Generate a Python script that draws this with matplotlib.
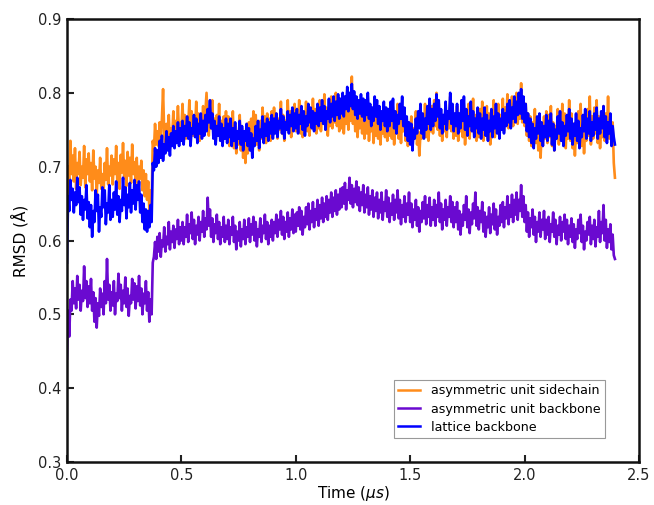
import numpy as np
import matplotlib
matplotlib.use("Agg")
import matplotlib.pyplot as plt
from matplotlib.ticker import FormatStrFormatter

# Sampling interval of the RMSD traces (microseconds)
dt = 0.005

sidechain = [
    0.620, 0.700, 0.675, 0.735, 0.690, 0.715, 0.680, 0.725, 0.670, 0.705, 0.690, 0.720, 0.675, 0.700, 0.685, 0.728, 0.672, 0.710, 0.690, 0.718,
    0.680, 0.705, 0.668, 0.722, 0.684, 0.700, 0.662, 0.695, 0.678, 0.712, 0.670, 0.690, 0.665, 0.705, 0.682, 0.725, 0.676, 0.700, 0.688, 0.715,
    0.676, 0.710, 0.690, 0.728, 0.680, 0.705, 0.670, 0.716, 0.692, 0.732, 0.684, 0.708, 0.674, 0.720, 0.688, 0.712, 0.678, 0.730, 0.690, 0.706,
    0.680, 0.712, 0.672, 0.700, 0.684, 0.708, 0.668, 0.695, 0.660, 0.690, 0.655, 0.680, 0.642, 0.668, 0.650, 0.735, 0.722, 0.758, 0.730, 0.748,
    0.728, 0.760, 0.735, 0.765, 0.805, 0.745, 0.728, 0.758, 0.740, 0.770, 0.732, 0.752, 0.744, 0.775, 0.738, 0.762, 0.748, 0.782, 0.742, 0.760,
    0.750, 0.785, 0.745, 0.770, 0.738, 0.762, 0.755, 0.790, 0.748, 0.775, 0.742, 0.768, 0.752, 0.788, 0.746, 0.772, 0.735, 0.760, 0.750, 0.782,
    0.748, 0.775, 0.800, 0.760, 0.742, 0.778, 0.752, 0.790, 0.745, 0.765, 0.735, 0.770, 0.748, 0.785, 0.740, 0.762, 0.732, 0.768, 0.745, 0.775,
    0.738, 0.768, 0.728, 0.760, 0.742, 0.775, 0.725, 0.755, 0.718, 0.748, 0.730, 0.770, 0.722, 0.752, 0.712, 0.745, 0.705, 0.738, 0.718, 0.760,
    0.728, 0.765, 0.735, 0.775, 0.742, 0.770, 0.730, 0.758, 0.722, 0.762, 0.738, 0.780, 0.745, 0.768, 0.732, 0.772, 0.740, 0.765, 0.735, 0.775,
    0.742, 0.780, 0.748, 0.772, 0.738, 0.765, 0.750, 0.788, 0.745, 0.770, 0.735, 0.762, 0.752, 0.790, 0.748, 0.775, 0.740, 0.768, 0.755, 0.785,
    0.748, 0.778, 0.755, 0.790, 0.745, 0.772, 0.740, 0.765, 0.752, 0.788, 0.748, 0.775, 0.742, 0.770, 0.755, 0.792, 0.750, 0.778, 0.745, 0.772,
    0.752, 0.790, 0.748, 0.775, 0.758, 0.798, 0.750, 0.780, 0.742, 0.770, 0.755, 0.795, 0.752, 0.785, 0.760, 0.800, 0.755, 0.782, 0.748, 0.778,
    0.752, 0.785, 0.745, 0.775, 0.758, 0.790, 0.750, 0.778, 0.762, 0.822, 0.758, 0.785, 0.748, 0.775, 0.740, 0.770, 0.752, 0.788, 0.745, 0.772,
    0.738, 0.768, 0.745, 0.780, 0.735, 0.762, 0.748, 0.775, 0.732, 0.765, 0.742, 0.782, 0.738, 0.768, 0.730, 0.758, 0.745, 0.778, 0.740, 0.765,
    0.735, 0.772, 0.742, 0.780, 0.738, 0.765, 0.730, 0.758, 0.745, 0.785, 0.738, 0.770, 0.732, 0.768, 0.748, 0.778, 0.735, 0.760, 0.728, 0.755,
    0.738, 0.768, 0.725, 0.752, 0.742, 0.775, 0.730, 0.748, 0.715, 0.745, 0.738, 0.770, 0.745, 0.785, 0.740, 0.772, 0.735, 0.768, 0.748, 0.782,
    0.745, 0.790, 0.755, 0.800, 0.750, 0.785, 0.742, 0.772, 0.735, 0.765, 0.748, 0.780, 0.740, 0.775, 0.752, 0.795, 0.748, 0.778, 0.738, 0.770,
    0.742, 0.782, 0.735, 0.768, 0.748, 0.790, 0.740, 0.772, 0.730, 0.760, 0.745, 0.785, 0.738, 0.775, 0.750, 0.792, 0.742, 0.770, 0.735, 0.765,
    0.740, 0.778, 0.748, 0.788, 0.735, 0.768, 0.742, 0.782, 0.738, 0.772, 0.730, 0.765, 0.745, 0.790, 0.740, 0.775, 0.748, 0.785, 0.742, 0.770,
    0.752, 0.792, 0.748, 0.780, 0.758, 0.798, 0.752, 0.785, 0.760, 0.795, 0.755, 0.782, 0.762, 0.800, 0.758, 0.790, 0.765, 0.813, 0.760, 0.792,
    0.755, 0.785, 0.742, 0.772, 0.735, 0.768, 0.728, 0.760, 0.740, 0.778, 0.732, 0.765, 0.722, 0.755, 0.712, 0.750, 0.728, 0.768, 0.738, 0.775,
    0.732, 0.770, 0.740, 0.782, 0.728, 0.760, 0.722, 0.755, 0.738, 0.778, 0.730, 0.768, 0.742, 0.785, 0.735, 0.772, 0.725, 0.762, 0.738, 0.790,
    0.735, 0.772, 0.725, 0.758, 0.715, 0.750, 0.732, 0.775, 0.740, 0.785, 0.728, 0.762, 0.718, 0.752, 0.735, 0.778, 0.742, 0.795, 0.730, 0.768,
    0.738, 0.780, 0.745, 0.790, 0.732, 0.768, 0.725, 0.758, 0.740, 0.782, 0.735, 0.772, 0.745, 0.795, 0.738, 0.765, 0.730, 0.760, 0.705, 0.685,
]

backbone = [
    0.440, 0.505, 0.470, 0.520, 0.505, 0.545, 0.515, 0.535, 0.508, 0.552, 0.520, 0.540, 0.505, 0.532, 0.518, 0.565, 0.522, 0.545, 0.510, 0.538,
    0.515, 0.548, 0.505, 0.530, 0.490, 0.522, 0.482, 0.515, 0.498, 0.535, 0.510, 0.528, 0.500, 0.545, 0.515, 0.575, 0.520, 0.540, 0.505, 0.530,
    0.512, 0.545, 0.500, 0.528, 0.518, 0.555, 0.522, 0.540, 0.505, 0.532, 0.515, 0.550, 0.510, 0.535, 0.498, 0.525, 0.515, 0.548, 0.520, 0.542,
    0.508, 0.538, 0.518, 0.552, 0.512, 0.535, 0.500, 0.528, 0.515, 0.545, 0.505, 0.530, 0.490, 0.520, 0.500, 0.570, 0.578, 0.598, 0.575, 0.605,
    0.585, 0.610, 0.578, 0.600, 0.592, 0.618, 0.585, 0.605, 0.595, 0.625, 0.588, 0.612, 0.598, 0.620, 0.590, 0.615, 0.602, 0.628, 0.595, 0.618,
    0.600, 0.625, 0.595, 0.618, 0.605, 0.635, 0.598, 0.622, 0.610, 0.638, 0.602, 0.628, 0.595, 0.620, 0.608, 0.632, 0.600, 0.625, 0.612, 0.640,
    0.605, 0.630, 0.615, 0.658, 0.620, 0.642, 0.605, 0.630, 0.598, 0.622, 0.610, 0.635, 0.602, 0.625, 0.595, 0.618, 0.605, 0.632, 0.598, 0.620,
    0.602, 0.628, 0.595, 0.618, 0.608, 0.632, 0.598, 0.620, 0.588, 0.612, 0.600, 0.625, 0.592, 0.615, 0.602, 0.628, 0.595, 0.618, 0.605, 0.630,
    0.598, 0.622, 0.608, 0.632, 0.600, 0.625, 0.592, 0.615, 0.605, 0.630, 0.598, 0.620, 0.610, 0.635, 0.602, 0.625, 0.595, 0.620, 0.605, 0.628,
    0.600, 0.625, 0.610, 0.635, 0.605, 0.628, 0.615, 0.640, 0.608, 0.632, 0.602, 0.625, 0.612, 0.638, 0.605, 0.630, 0.615, 0.642, 0.610, 0.635,
    0.612, 0.638, 0.620, 0.645, 0.615, 0.640, 0.608, 0.632, 0.618, 0.645, 0.622, 0.650, 0.615, 0.640, 0.625, 0.652, 0.618, 0.642, 0.628, 0.655,
    0.620, 0.648, 0.630, 0.658, 0.625, 0.650, 0.632, 0.660, 0.628, 0.655, 0.638, 0.665, 0.632, 0.658, 0.640, 0.668, 0.635, 0.662, 0.642, 0.670,
    0.645, 0.672, 0.650, 0.678, 0.642, 0.668, 0.655, 0.685, 0.650, 0.675, 0.645, 0.670, 0.652, 0.680, 0.648, 0.672, 0.640, 0.665, 0.648, 0.675,
    0.638, 0.662, 0.645, 0.672, 0.635, 0.660, 0.642, 0.668, 0.632, 0.658, 0.640, 0.665, 0.630, 0.655, 0.638, 0.665, 0.628, 0.652, 0.640, 0.668,
    0.632, 0.658, 0.625, 0.650, 0.635, 0.662, 0.628, 0.655, 0.638, 0.668, 0.630, 0.655, 0.622, 0.648, 0.632, 0.660, 0.625, 0.650, 0.635, 0.665,
    0.625, 0.650, 0.618, 0.642, 0.628, 0.655, 0.620, 0.645, 0.612, 0.640, 0.625, 0.652, 0.630, 0.660, 0.622, 0.648, 0.632, 0.658, 0.620, 0.645,
    0.628, 0.655, 0.620, 0.648, 0.632, 0.665, 0.625, 0.650, 0.615, 0.642, 0.628, 0.655, 0.620, 0.645, 0.632, 0.660, 0.625, 0.652, 0.618, 0.645,
    0.625, 0.652, 0.615, 0.640, 0.608, 0.635, 0.620, 0.648, 0.628, 0.660, 0.618, 0.642, 0.610, 0.638, 0.622, 0.650, 0.630, 0.665, 0.620, 0.645,
    0.615, 0.640, 0.625, 0.652, 0.612, 0.638, 0.605, 0.632, 0.618, 0.645, 0.610, 0.635, 0.622, 0.650, 0.615, 0.642, 0.608, 0.632, 0.620, 0.648,
    0.625, 0.652, 0.618, 0.645, 0.630, 0.660, 0.622, 0.648, 0.632, 0.662, 0.625, 0.655, 0.635, 0.665, 0.628, 0.655, 0.640, 0.675, 0.632, 0.660,
    0.625, 0.648, 0.612, 0.638, 0.605, 0.630, 0.618, 0.642, 0.608, 0.632, 0.598, 0.625, 0.612, 0.638, 0.605, 0.628, 0.615, 0.640, 0.602, 0.628,
    0.608, 0.632, 0.598, 0.622, 0.612, 0.638, 0.605, 0.628, 0.595, 0.620, 0.608, 0.632, 0.600, 0.625, 0.612, 0.635, 0.602, 0.628, 0.595, 0.620,
    0.605, 0.630, 0.598, 0.622, 0.590, 0.615, 0.602, 0.628, 0.610, 0.635, 0.598, 0.620, 0.588, 0.612, 0.600, 0.625, 0.608, 0.632, 0.595, 0.620,
    0.602, 0.628, 0.592, 0.618, 0.605, 0.640, 0.598, 0.625, 0.610, 0.648, 0.600, 0.628, 0.590, 0.615, 0.598, 0.622, 0.588, 0.608, 0.580, 0.575,
]

lattice = [
    0.570, 0.660, 0.640, 0.682, 0.655, 0.670, 0.638, 0.665, 0.648, 0.685, 0.652, 0.672, 0.635, 0.660, 0.628, 0.655, 0.642, 0.675, 0.630, 0.652,
    0.618, 0.648, 0.605, 0.640, 0.625, 0.668, 0.640, 0.662, 0.612, 0.645, 0.632, 0.672, 0.645, 0.668, 0.622, 0.650, 0.638, 0.675, 0.628, 0.655,
    0.632, 0.665, 0.642, 0.680, 0.635, 0.660, 0.625, 0.655, 0.640, 0.685, 0.648, 0.672, 0.630, 0.662, 0.645, 0.678, 0.638, 0.668, 0.650, 0.682,
    0.642, 0.675, 0.655, 0.680, 0.638, 0.662, 0.625, 0.650, 0.615, 0.642, 0.612, 0.640, 0.618, 0.648, 0.625, 0.705, 0.695, 0.725, 0.700, 0.722,
    0.705, 0.735, 0.712, 0.742, 0.708, 0.730, 0.718, 0.748, 0.722, 0.740, 0.715, 0.745, 0.728, 0.755, 0.725, 0.748, 0.732, 0.760, 0.728, 0.752,
    0.735, 0.762, 0.730, 0.755, 0.742, 0.768, 0.738, 0.760, 0.728, 0.752, 0.745, 0.770, 0.740, 0.765, 0.732, 0.758, 0.745, 0.772, 0.738, 0.762,
    0.742, 0.770, 0.748, 0.778, 0.760, 0.790, 0.752, 0.772, 0.738, 0.762, 0.730, 0.755, 0.742, 0.768, 0.735, 0.758, 0.728, 0.752, 0.738, 0.765,
    0.732, 0.758, 0.740, 0.765, 0.728, 0.752, 0.735, 0.760, 0.725, 0.748, 0.738, 0.762, 0.730, 0.755, 0.722, 0.748, 0.735, 0.758, 0.728, 0.752,
    0.722, 0.745, 0.712, 0.738, 0.728, 0.755, 0.735, 0.762, 0.725, 0.750, 0.740, 0.768, 0.732, 0.758, 0.742, 0.765, 0.735, 0.760, 0.745, 0.770,
    0.738, 0.765, 0.745, 0.772, 0.740, 0.762, 0.752, 0.778, 0.745, 0.768, 0.738, 0.760, 0.750, 0.775, 0.745, 0.770, 0.755, 0.780, 0.748, 0.772,
    0.752, 0.778, 0.745, 0.770, 0.758, 0.782, 0.750, 0.775, 0.742, 0.768, 0.755, 0.785, 0.760, 0.780, 0.752, 0.775, 0.748, 0.772, 0.758, 0.785,
    0.755, 0.780, 0.762, 0.790, 0.758, 0.782, 0.750, 0.775, 0.765, 0.792, 0.760, 0.785, 0.768, 0.795, 0.762, 0.788, 0.770, 0.798, 0.765, 0.792,
    0.772, 0.800, 0.768, 0.795, 0.778, 0.808, 0.775, 0.800, 0.782, 0.812, 0.778, 0.802, 0.770, 0.795, 0.765, 0.790, 0.772, 0.798, 0.768, 0.792,
    0.762, 0.790, 0.770, 0.800, 0.765, 0.785, 0.755, 0.780, 0.762, 0.795, 0.768, 0.790, 0.758, 0.782, 0.750, 0.775, 0.762, 0.788, 0.755, 0.780,
    0.748, 0.778, 0.755, 0.788, 0.762, 0.792, 0.752, 0.775, 0.745, 0.770, 0.758, 0.785, 0.765, 0.795, 0.755, 0.780, 0.742, 0.768, 0.735, 0.760,
    0.730, 0.758, 0.722, 0.750, 0.738, 0.765, 0.745, 0.775, 0.752, 0.785, 0.745, 0.772, 0.738, 0.765, 0.750, 0.782, 0.758, 0.792, 0.750, 0.778,
    0.755, 0.785, 0.762, 0.798, 0.768, 0.790, 0.752, 0.778, 0.745, 0.770, 0.758, 0.788, 0.750, 0.775, 0.765, 0.800, 0.758, 0.785, 0.748, 0.772,
    0.755, 0.785, 0.745, 0.772, 0.752, 0.790, 0.762, 0.795, 0.750, 0.778, 0.742, 0.768, 0.755, 0.788, 0.748, 0.775, 0.740, 0.765, 0.752, 0.780,
    0.745, 0.772, 0.738, 0.765, 0.750, 0.780, 0.742, 0.770, 0.735, 0.762, 0.748, 0.778, 0.740, 0.768, 0.752, 0.785, 0.745, 0.772, 0.738, 0.765,
    0.750, 0.778, 0.745, 0.772, 0.755, 0.785, 0.760, 0.790, 0.752, 0.780, 0.765, 0.795, 0.760, 0.788, 0.770, 0.800, 0.772, 0.805, 0.765, 0.795,
    0.760, 0.785, 0.748, 0.772, 0.740, 0.765, 0.732, 0.758, 0.725, 0.752, 0.738, 0.768, 0.745, 0.772, 0.735, 0.760, 0.728, 0.755, 0.740, 0.770,
    0.735, 0.762, 0.742, 0.772, 0.730, 0.758, 0.722, 0.750, 0.738, 0.768, 0.745, 0.775, 0.735, 0.760, 0.728, 0.755, 0.742, 0.770, 0.748, 0.778,
    0.738, 0.765, 0.730, 0.758, 0.742, 0.772, 0.735, 0.762, 0.725, 0.752, 0.740, 0.770, 0.748, 0.778, 0.738, 0.765, 0.745, 0.775, 0.735, 0.760,
    0.742, 0.772, 0.750, 0.780, 0.738, 0.765, 0.745, 0.775, 0.752, 0.782, 0.740, 0.768, 0.732, 0.760, 0.745, 0.772, 0.728, 0.755, 0.740, 0.730,
]

labels = ["asymmetric unit sidechain", "asymmetric unit backbone", "lattice backbone"]
colors = ["#ff8c1a", "#6a0ad0", "#0000ff"]

time = np.arange(len(sidechain)) * dt

fig = plt.figure(figsize=(6.54, 5.05), dpi=100)
ax = fig.add_axes([0.1024, 0.0851, 0.8746, 0.8773])

for series, lab, col in zip([sidechain, backbone, lattice], labels, colors):
    ax.plot(time, series, color=col, lw=1.9, label=lab)

ax.set_xlim(0.0, 2.5)
ax.set_ylim(0.3, 0.9)
ax.set_xticks([0.0, 0.5, 1.0, 1.5, 2.0, 2.5])
ax.set_yticks([0.3, 0.4, 0.5, 0.6, 0.7, 0.8, 0.9])
ax.xaxis.set_major_formatter(FormatStrFormatter("%.1f"))
ax.yaxis.set_major_formatter(FormatStrFormatter("%.1f"))
ax.tick_params(direction="in", length=5, width=1.5, labelsize=10.5, colors="#222222",
               pad=4)
for sp in ax.spines.values():
    sp.set_linewidth(1.8)
    sp.set_color("#111111")

ax.set_xlabel(r"Time ($\mu s$)", fontsize=11, labelpad=1)
ax.set_ylabel("RMSD (Å)", fontsize=11, labelpad=7)

leg = ax.legend(loc="lower right", bbox_to_anchor=(0.9406, 0.0542), borderaxespad=0,
                fontsize=9.1, fancybox=False, framealpha=1, edgecolor="#999999",
                handlelength=1.7, handletextpad=0.9, borderpad=0.35, labelspacing=0.4)
leg.get_frame().set_linewidth(0.8)
for line in leg.get_lines():
    line.set_linewidth(1.8)

fig.savefig("out.png", dpi=100)
